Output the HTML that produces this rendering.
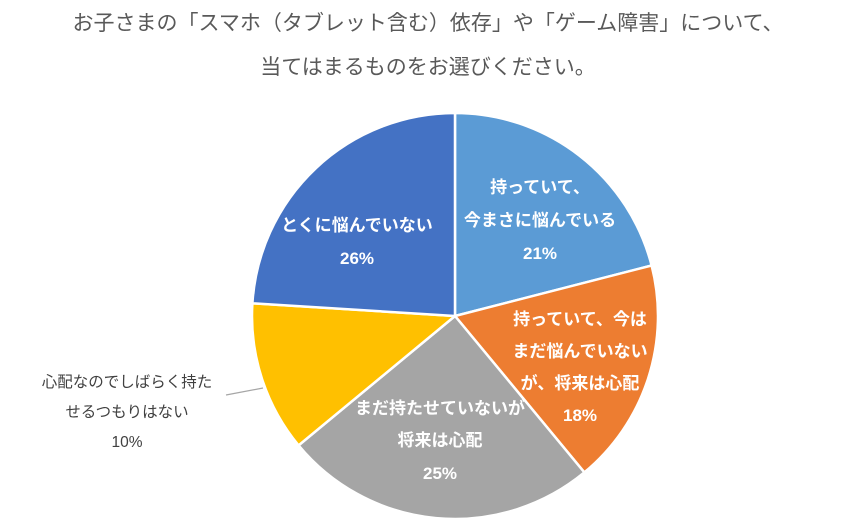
<!DOCTYPE html>
<html><head><meta charset="utf-8"><style>
body{margin:0;background:#fff;width:868px;height:523px;overflow:hidden}
</style></head><body>
<svg width="868" height="523" xmlns="http://www.w3.org/2000/svg" font-family="Liberation Sans, Noto Sans CJK JP, sans-serif">
<text x="428" y="30" font-size="21" fill="#595959" text-anchor="middle">お子さまの「スマホ（タブレット含む）依存」や「ゲーム障害」について、</text>
<text x="428" y="74" font-size="21" fill="#595959" text-anchor="middle">当てはまるものをお選びください。</text>
<g stroke="#fff" stroke-width="2.5">
<path d="M455,316 L455,113 A203,203 0 0 1 651.6,265.5 Z" fill="#5B9BD5"/>
<path d="M455,316 L651.6,265.5 A203,203 0 0 1 584.4,472.4 Z" fill="#ED7D31"/>
<path d="M455,316 L584.4,472.4 A203,203 0 0 1 298.6,445.4 Z" fill="#A5A5A5"/>
<path d="M455,316 L298.6,445.4 A203,203 0 0 1 252.4,303.3 Z" fill="#FFC000"/>
<path d="M455,316 L252.4,303.3 A203,203 0 0 1 455,113 Z" fill="#4472C4"/>
</g>
<g fill="#fff" font-size="17" font-weight="bold" text-anchor="middle">
<text x="357" y="231">とくに悩んでいない</text>
<text x="357" y="264">26%</text>
<text x="540" y="193">持っていて、</text>
<text x="540" y="226">今まさに悩んでいる</text>
<text x="540" y="259">21%</text>
<text x="580" y="325">持っていて、今は</text>
<text x="580" y="357">まだ悩んでいない</text>
<text x="580" y="389">が、将来は心配</text>
<text x="580" y="421">18%</text>
<text x="440" y="414">まだ持たせていないが</text>
<text x="440" y="446">将来は心配</text>
<text x="440" y="479">25%</text>
</g>
<line x1="226" y1="395" x2="263" y2="388" stroke="#A6A6A6" stroke-width="1.2"/>
<g fill="#404040" font-size="15.5" text-anchor="middle">
<text x="127" y="387">心配なのでしばらく持た</text>
<text x="127" y="417">せるつもりはない</text>
<text x="127" y="447">10%</text>
</g>
</svg>
</body></html>
